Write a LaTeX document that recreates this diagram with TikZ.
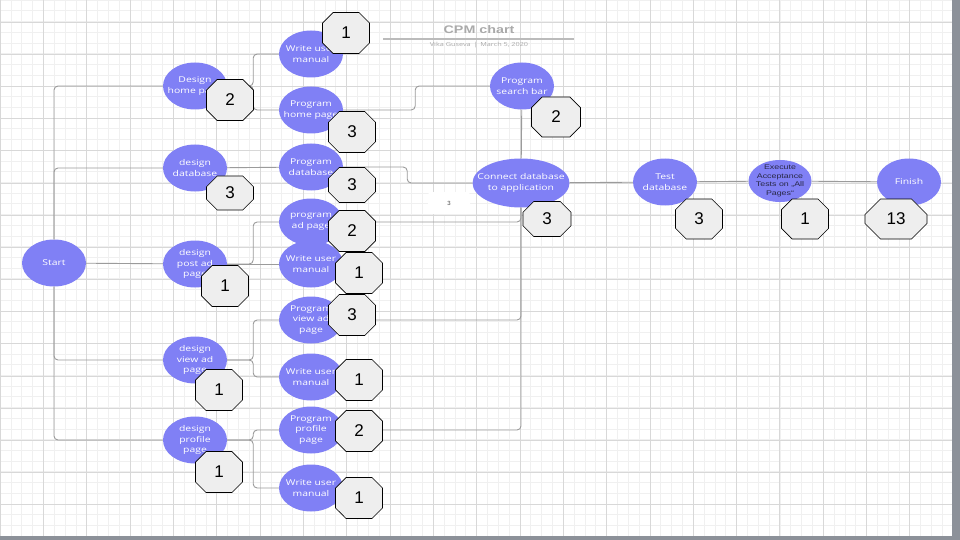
\documentclass[tikz,border=0pt]{standalone}
\usepackage{fontspec}
\setmainfont{Liberation Sans}
\newfontfamily\opensans[FakeStretch=1.3]{Open Sans}
\newfontfamily\arialwide[FakeStretch=1.3]{Liberation Sans}
\usetikzlibrary{shapes.geometric}
\usetikzlibrary{shapes.misc}

\definecolor{taskblue}{RGB}{128,128,245}
\definecolor{durgrey}{RGB}{238,238,238}
\definecolor{linkgrey}{RGB}{155,155,155}
\definecolor{gridminor}{RGB}{240,240,240}
\definecolor{gridmajor}{RGB}{216,216,216}
\definecolor{edgegrey}{RGB}{140,145,153}
\definecolor{titlegrey}{RGB}{170,170,170}
\definecolor{acceptink}{RGB}{40,40,70}

\tikzset{
    task/.style={ellipse, fill=taskblue, minimum width=64pt, minimum height=47pt,
        inner sep=0pt, label={[tasktext]center:#1}},
    tasktext/.style={text=white, align=center,
        font=\opensans\fontsize{8}{10.7}\selectfont},
    dur/.style={chamfered rectangle, chamfered rectangle xsep=12pt,
        chamfered rectangle ysep=12pt, draw=black, fill=durgrey, line width=0.6pt,
        minimum width=47pt, minimum height=41pt, inner sep=0pt,
        font=\fontsize{17}{17}\selectfont},
    link/.style={draw=linkgrey, line width=0.9pt, rounded corners=4pt},
}

\begin{document}
\begin{tikzpicture}[x=1pt,y=-1pt]
    \useasboundingbox (0,0) rectangle (960,540);
    \fill[white] (0,0) rectangle (960,540);
    \draw[gridminor, line width=0.5pt, xstep=10.83pt, ystep=10.72pt] (0,0) grid (952,536);
    \foreach \x in {0,43.32,...,952} \draw[gridmajor, line width=0.6pt] (\x,0) -- (\x,536);
    \foreach \y in {22,54.17,...,536} \draw[gridmajor, line width=0.6pt] (0,\y) -- (952,\y);
    \fill[edgegrey] (952,0) rectangle (960,540);
    \fill[edgegrey] (0,536) rectangle (960,540);

    \node[text=titlegrey, font=\arialwide\bfseries\fontsize{11}{12}\selectfont] (title) at (479,30) {CPM chart};
    \draw[titlegrey!80, line width=1.2pt] (383,39) -- (574,39);
    \node[text=titlegrey, font=\opensans\fontsize{5.6}{6}\selectfont] (by) at (479,45) {Vika Guseva \,|\, March 5, 2020};

    \node[task={Start}] (S) at (54,263) {};
    \node[task={Design\\home page}] (D1) at (195,86) {};
    \node[task={design\\database}] (D2) at (195,168) {};
    \node[task={design\\post ad\\page}] (D3) at (195,264) {};
    \node[task={design\\view ad\\page}] (D4) at (195,360) {};
    \node[task={design\\profile\\page}] (D5) at (195,440) {};

    \node[task={Write user\\manual}] (P1) at (311,54) {};
    \node[task={Program\\home page}] (P2) at (311,110) {};
    \node[task={Program\\database}] (P3) at (311,167) {};
    \node[task={program\\ad page}] (P4) at (311,222) {};
    \node[task={Write user\\manual}] (P5) at (311,264) {};
    \node[task={Program\\view ad\\page}] (P6) at (311,320) {};
    \node[task={Write user\\manual}] (P7) at (311,377) {};
    \node[task={Program\\profile\\page}] (P8) at (311,430) {};
    \node[task={Write user\\manual}] (P9) at (311,488) {};

    \node[task={Program\\search bar}] (B) at (522,86) {};
    \node[task={Connect database\\to application}, minimum width=97pt, minimum height=49pt] (C) at (521,183) {};
    \node[task={Test\\database}] (T) at (665,182) {};
    \node[ellipse, fill=taskblue, minimum width=63pt, minimum height=42pt, inner sep=0pt,
        label={[align=center, text=acceptink, font=\arialwide\fontsize{6.8}{8.6}\selectfont]center:Execute\\Acceptance\\Tests on „All\\Pages“}] (E) at (780,181) {};
    \node[task={Finish}] (F) at (909,182) {};

    \draw[link] (S.north) |- (D1.west);
    \draw[link] (S.north) |- (D2.west);
    \draw[link] (S) -- (D3);
    \draw[link] (S.south) |- (D4.west);
    \draw[link] (S.south) |- (D5.west);
    \draw[link] (D1.east) -- ++(26,0) |- (P1.west);
    \draw[link] (D1.east) -- ++(26,0) |- (P2.west);
    \draw[link] (D2) -- (P3);
    \draw[link] (D3.east) -- ++(26,0) |- (P4.west);
    \draw[link] (D3) -- (P5);
    \draw[link] (D4.east) -- ++(26,0) |- (P6.west);
    \draw[link] (D4.east) -- ++(26,0) |- (P7.west);
    \draw[link] (D5.east) -- ++(26,0) |- (P8.west);
    \draw[link] (D5.east) -- ++(26,0) |- (P9.west);
    \draw[link] (P2.east) -- ++(72,0) |- (B.west);
    \draw[link] (P3.east) -- ++(64,0) |- (C.west);
    \draw[link] (B) -- (C);
    \draw[link] (P4.east) -| (C.south);
    \draw[link] (P6.east) -| (C.south);
    \draw[link] (P8.east) -| (C.south);
    \draw[link] (C) -- (T);
    \draw[link] (T) -- (E);
    \draw[link] (E) -- (F);

    \node[fill=white, rounded corners=3pt, minimum width=42pt, minimum height=22pt,
        text=black!70, font=\fontsize{6}{6}\selectfont] (L) at (449,203) {3};

    \node[dur] (N1) at (346,33) {1};
    \node[dur] (N2) at (230,100) {2};
    \node[dur] (N3) at (352,132) {3};
    \node[dur, minimum height=34pt] (N4) at (230,193) {3};
    \node[dur, minimum height=35pt] (N5) at (352,185) {3};
    \node[dur] (N6) at (352,231) {2};
    \node[dur] (N7) at (359,273) {1};
    \node[dur] (N8) at (225,286) {1};
    \node[dur] (N9) at (352,315) {3};
    \node[dur] (N10) at (219,390) {1};
    \node[dur] (N11) at (359,380) {1};
    \node[dur] (N12) at (359,431) {2};
    \node[dur] (N13) at (219,472) {1};
    \node[dur] (N14) at (359,498) {1};
    \node[dur, minimum width=49pt, minimum height=40pt] (N15) at (556,117) {2};
    \node[dur, minimum width=48pt, minimum height=35pt] (N16) at (547,219) {3};
    \node[dur, minimum height=40pt] (N17) at (699,219) {3};
    \node[dur, minimum height=40pt] (N18) at (805,219) {1};
    \node[dur, minimum width=62pt, minimum height=40pt] (N19) at (896,219) {13};
\end{tikzpicture}
\end{document}
